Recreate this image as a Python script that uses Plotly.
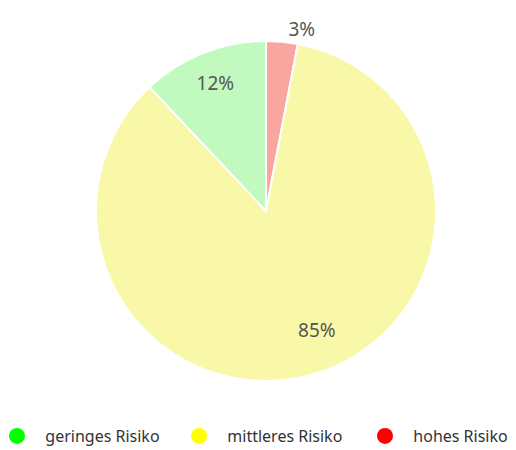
import plotly.graph_objects as go

# pie order (clockwise from 12 o'clock)
pie_labels = ["hohes Risiko", "mittleres Risiko", "geringes Risiko"]
pie_values = [3, 85, 12]
pie_colors = ["#f9a6a1", "#f8f8a8", "#c1f9be"]
text_positions = ["outside", "inside", "inside"]

# legend order
legend_labels = ["geringes Risiko", "mittleres Risiko", "hohes Risiko"]
legend_colors = ["#00ff00", "#ffff00", "#ff0000"]

# label placement nudges (pure styling: padding around the value text)
NB = "\u00a0"
templates = ["%{value}%" + NB * 3,
             NB + "<br>" + NB + "<br>" + NB + "<br>" + NB * 11 + "%{value}%",
             "%{value}%" + NB * 2 + "<br>" + NB]

fig = go.Figure()
fig.add_trace(go.Pie(
    labels=pie_labels, values=pie_values, sort=False, direction="clockwise", rotation=0,
    marker=dict(colors=pie_colors, line=dict(color="white", width=2)),
    texttemplate=templates, textposition=text_positions,
    textfont=dict(family="Noto Sans", size=19, color="#555555"),
    insidetextorientation="horizontal",
    showlegend=False, hoverinfo="label+percent",
    domain=dict(x=[88/516, 428/516], y=[1-373/450, 1-33/450]),
))
legend_x = [-11/516, 171/516, 357/516]
layout_legends = {}
for i, (name, c) in enumerate(zip(legend_labels, legend_colors)):
    lg = "legend" if i == 0 else f"legend{i+1}"
    fig.add_trace(go.Scatter(x=[None], y=[None], mode="markers", name="  " + name,
                             legend=lg,
                             marker=dict(symbol="circle", size=16, color=c)))
    layout_legends[lg] = dict(orientation="h", x=legend_x[i], xanchor="left",
                              y=22/450, yanchor="middle", bgcolor="rgba(0,0,0,0)",
                              font=dict(size=16, color="#333333"), itemsizing="trace")

fig.update_layout(
    width=516, height=450, margin=dict(l=0, r=0, t=0, b=0, autoexpand=False),
    paper_bgcolor="white", plot_bgcolor="white",
    xaxis=dict(visible=False), yaxis=dict(visible=False),
    font=dict(family="Noto Sans", color="#333333"),
    **layout_legends,
)
fig.write_html("out.html")
